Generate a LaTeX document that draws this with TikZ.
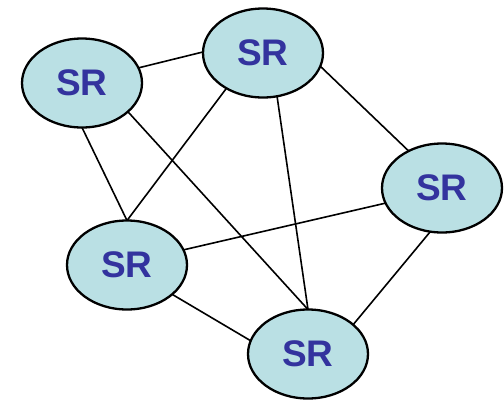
\documentclass[tikz,border=0pt]{standalone}
\usepackage{fontspec}
\setmainfont{Liberation Sans}
\usetikzlibrary{shapes.geometric}
\definecolor{srfill}{RGB}{186,224,228}
\definecolor{srtext}{RGB}{51,51,158}
\tikzset{
  srnode/.style={ellipse, draw=black, line width=2.3pt, fill=srfill,
    minimum width=120pt, minimum height=89pt, inner sep=0pt, outer sep=0pt,
    text=srtext, font=\fontsize{37}{40}\selectfont\bfseries},
  link/.style={draw=black, line width=1.6pt}
}
\begin{document}
\begin{tikzpicture}[x=1pt,y=-1pt]
\useasboundingbox (0,0) rectangle (504,400);
\node[srnode] (a) at (82,83) {SR};
\node[srnode] (b) at (263,53) {SR};
\node[srnode] (c) at (442,188) {SR};
\node[srnode] (d) at (127,265) {SR};
\node[srnode] (e) at (308,354) {SR};
\draw[link] (a.15) -- (b.179);
\draw[link] (a.south) -- (d.north);
\draw[link] (a.-32) -- (e.north);
\draw[link] (b.-136) -- (d.north);
\draw[link] (b.-72) -- (e.north);
\draw[link] (b.-13) -- (c.132);
\draw[link] (c.-165) -- (d.15);
\draw[link] (c.-105) -- (e.33);
\draw[link] (d.-33) -- (e.167);
\end{tikzpicture}
\end{document}
